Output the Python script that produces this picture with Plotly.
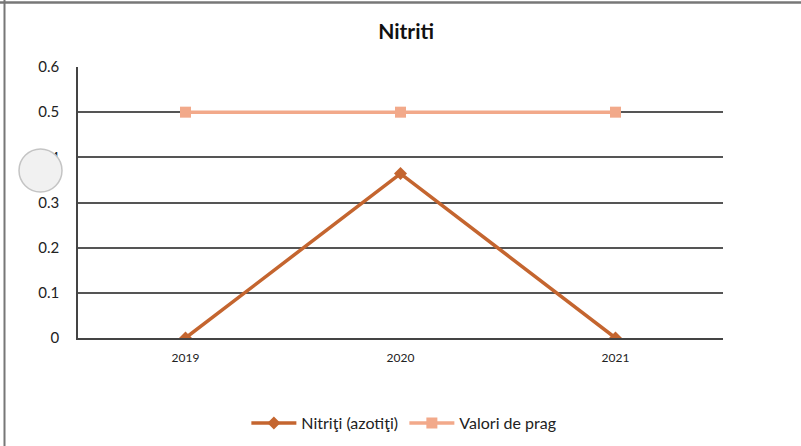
import plotly.graph_objects as go

years = ["2019", "2020", "2021"]
nitriti = [0.0, 0.364, 0.0]
valori_prag = [0.5, 0.5, 0.5]
y_ticks = [0, 0.1, 0.2, 0.3, 0.4, 0.5, 0.6]
y_tick_labels = ["0", "0.1", "0.2", "0.3", "0.4", "0.5", "0.6"]

FONT = "Lato, Open Sans, sans-serif"

fig = go.Figure()
fig.add_trace(go.Scatter(
    x=years, y=nitriti, name="Nitriţi (azotiţi)", mode="lines+markers",
    line=dict(color="#C4652F", width=3.5),
    marker=dict(symbol="diamond", size=10, color="#C4652F"),
))
fig.add_trace(go.Scatter(
    x=years, y=valori_prag, name="Valori de prag", mode="lines+markers",
    line=dict(color="#F2A98A", width=3.5),
    marker=dict(symbol="square", size=11, color="#F2A98A"),
))

W, H = 801, 446
ml, mr, mt, mb = 78, 78, 67, 108
pw, ph = W - ml - mr, H - mt - mb

def px_x(p):
    return (p - ml) / pw

def px_y(p):
    return (H - mb - p) / ph

fig.update_layout(
    width=W, height=H,
    margin=dict(l=ml, r=mr, t=mt, b=mb, autoexpand=False),
    paper_bgcolor="white", plot_bgcolor="white",
    font=dict(family=FONT, size=12, color="#222222"),
    title=dict(text="<b>Nitriti</b>", x=0.507, xanchor="center", y=1 - 31.5 / H,
               yanchor="middle", font=dict(size=21, color="#111111", family=FONT)),
    showlegend=True,
    legend=dict(orientation="h", x=0.506, xanchor="center",
                yref="container", y=(H - 423) / H,
                yanchor="middle", font=dict(size=16, family=FONT, color="#222222"),
                itemwidth=45, entrywidth=98, bgcolor="rgba(0,0,0,0)"),
    xaxis=dict(type="category", range=[-0.5, 2.5], showgrid=False,
               showline=True, linecolor="#444444", linewidth=1.5,
               ticks="", tickfont=dict(size=12), ticklabelstandoff=8,
               fixedrange=True),
    yaxis=dict(range=[0, 0.6], tickvals=y_ticks, ticktext=y_tick_labels,
               showgrid=True, gridcolor="#555555", gridwidth=1.5,
               showline=True, linecolor="#444444", linewidth=1.5,
               zeroline=False, ticks="", tickfont=dict(size=15),
               ticklabelstandoff=14, fixedrange=True),
    shapes=[
        dict(type="line", xref="paper", yref="paper", x0=px_x(0), x1=px_x(W),
             y0=px_y(2.5), y1=px_y(2.5), line=dict(color="#777777", width=2.5)),
        dict(type="line", xref="paper", yref="paper", x0=px_x(4.5), x1=px_x(4.5),
             y0=px_y(0), y1=px_y(H), line=dict(color="#777777", width=2)),
        dict(type="circle", xref="paper", yref="paper", layer="above",
             x0=px_x(19), x1=px_x(62), y0=px_y(149), y1=px_y(192),
             fillcolor="#f1f1f1", line=dict(color="#c4c4c4", width=1.5)),
    ],
)

fig.write_html("out.html", config={"displayModeBar": False},
               post_script="document.body.style.margin='0';document.body.style.overflow='hidden';")
